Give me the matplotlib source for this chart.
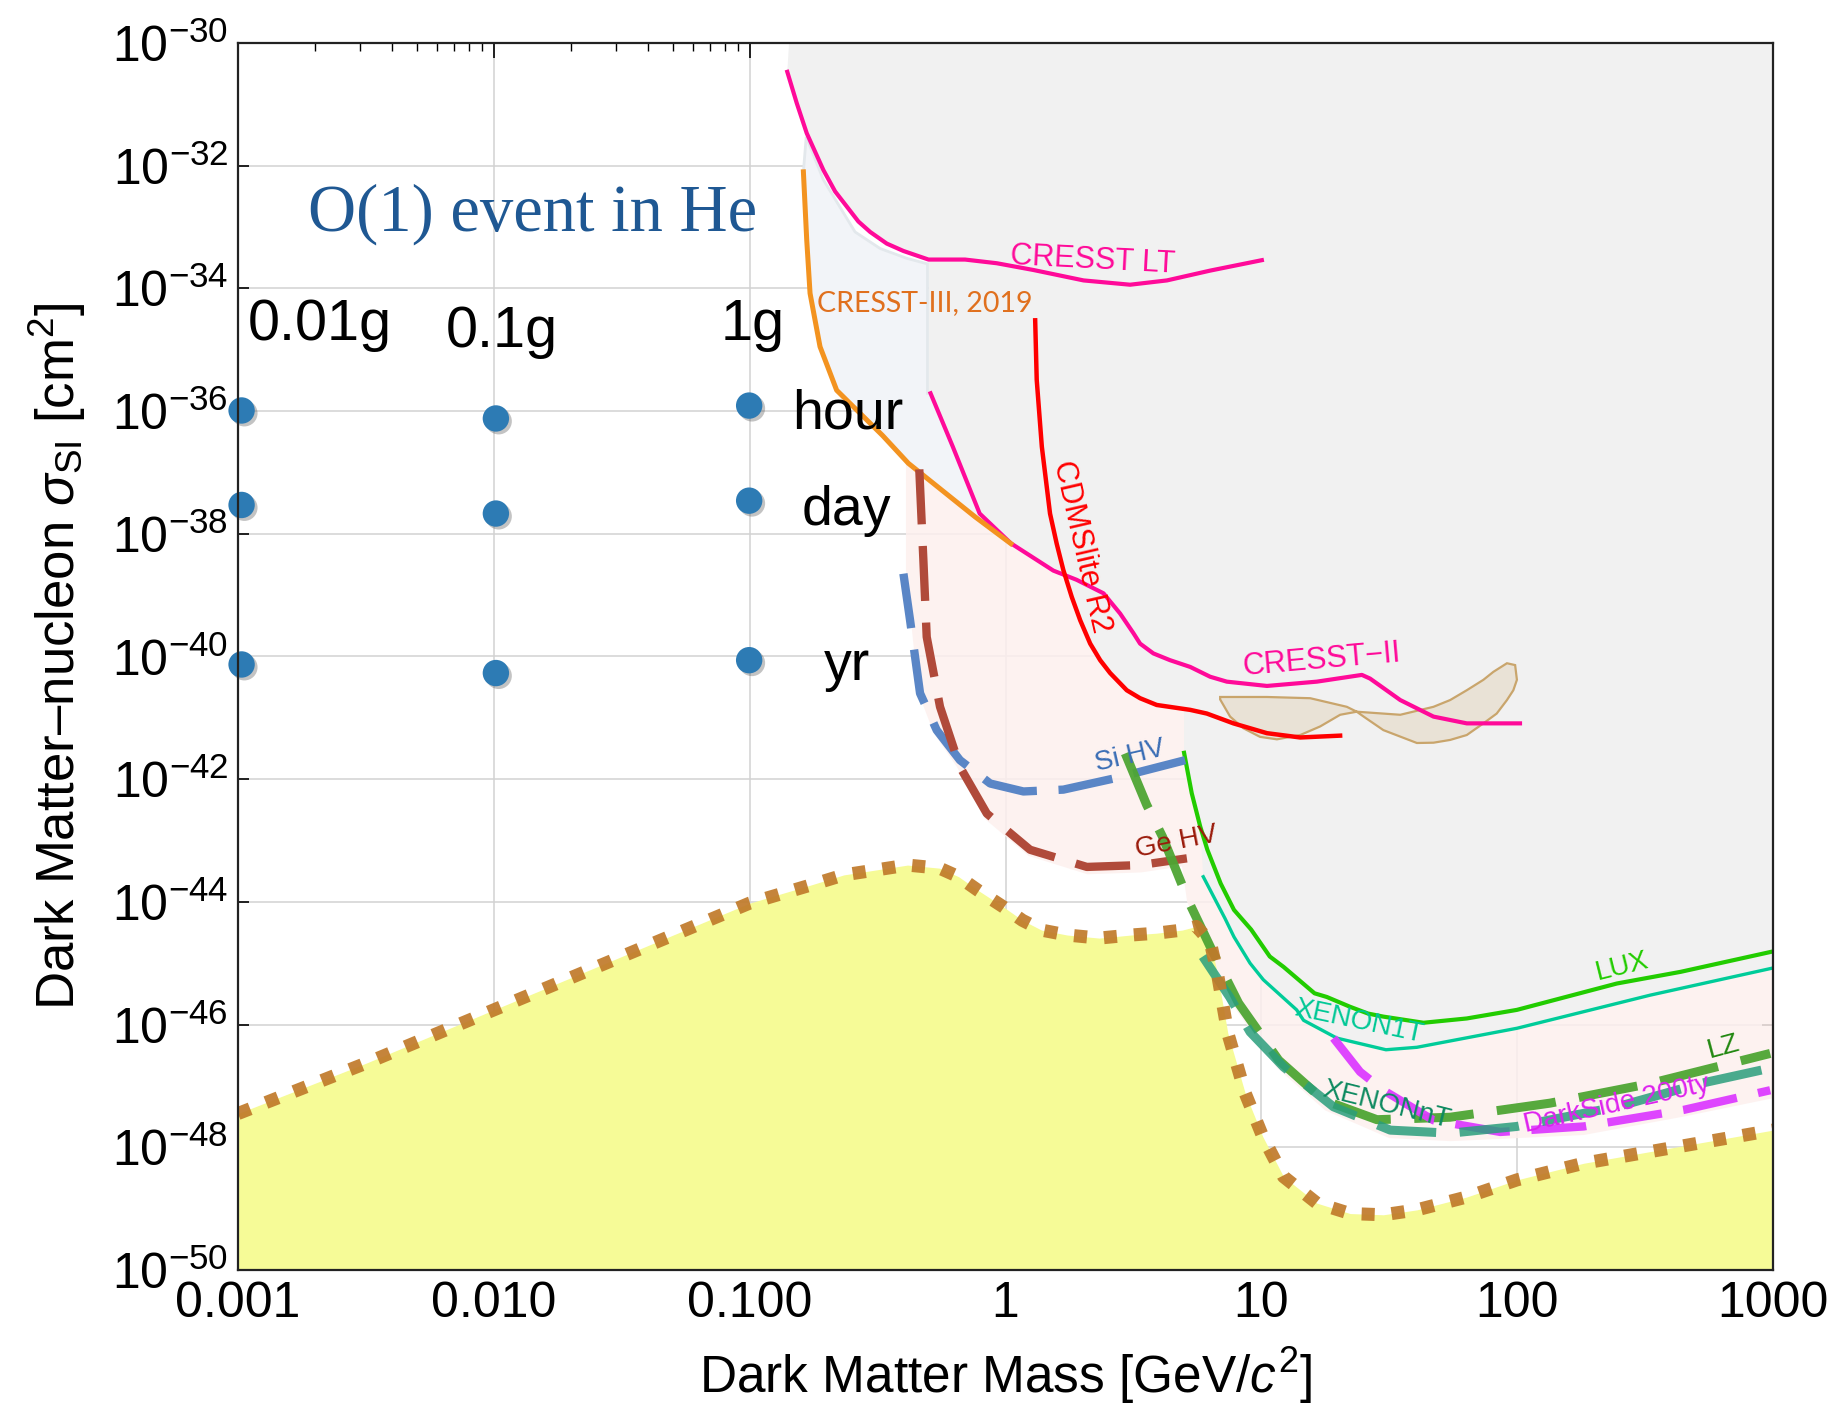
import numpy as np
import matplotlib
matplotlib.use("Agg")
import matplotlib.pyplot as plt
from matplotlib import patheffects

plt.rcParams['font.family'] = ['Liberation Sans', 'DejaVu Sans']
plt.rcParams['mathtext.fontset'] = 'custom'
plt.rcParams['mathtext.rm'] = 'Liberation Sans'
plt.rcParams['mathtext.it'] = 'Liberation Sans:italic'
plt.rcParams['mathtext.default'] = 'regular'

# every curve is stored as log10(mass / GeV), log10(sigma / cm^2)

# current limits
clt_lm = [-0.853, -0.816, -0.777, -0.712, -0.666, -0.614, -0.575, -0.529, -0.464, -0.399, -0.301, -0.158, -0.034, 0.109,
          0.305, 0.487, 0.631, 0.800, 1.002]
clt_ls = [-30.47, -30.98, -31.47, -32.07, -32.42, -32.70, -32.91, -33.08, -33.27, -33.39, -33.53, -33.53, -33.59, -33.70,
          -33.87, -33.94, -33.87, -33.71, -33.54]

c3_lm = [-0.790, -0.777, -0.764, -0.725, -0.660, -0.480, -0.380, -0.120, 0.021]
c3_ls = [-32.10, -33.21, -34.08, -34.95, -35.66, -36.40, -36.85, -37.72, -38.16]

c2_lm = [-0.293, -0.206, -0.101, 0.021, 0.187, 0.278, 0.383, 0.448, 0.500, 0.526, 0.578, 0.643, 0.722, 0.800, 0.865,
         1.022, 1.217, 1.393, 1.425, 1.543, 1.673, 1.803, 2.011]
c2_ls = [-35.71, -36.58, -37.67, -38.155, -38.60, -38.75, -38.97, -39.30, -39.62, -39.79, -39.95, -40.06, -40.17, -40.33, -40.41,
         -40.48, -40.41, -40.30, -40.36, -40.71, -40.98, -41.09, -41.09]

cdms_lm = [0.116, 0.122, 0.142, 0.174, 0.200, 0.226, 0.259, 0.292, 0.331, 0.370, 0.409, 0.474, 0.526, 0.591, 0.722, 0.787,
           0.891, 1.022, 1.152, 1.308]
cdms_ls = [-34.52, -35.49, -36.58, -37.67, -38.16, -38.59, -39.03, -39.41, -39.79, -40.06, -40.27, -40.55, -40.68, -40.79, -40.87, -40.93,
           -41.09, -41.25, -41.32, -41.29]

lux_lm = [0.698, 0.728, 0.761, 0.789, 0.841, 0.893, 0.960, 1.033, 1.087, 1.208, 1.256, 1.347, 1.417, 1.477, 1.634, 1.803,
          1.999, 2.390, 2.639, 2.997]
lux_ls = [-41.57, -42.23, -42.77, -43.15, -43.70, -44.13, -44.45, -44.89, -45.06, -45.49, -45.55, -45.71, -45.82, -45.87, -45.97, -45.90,
          -45.76, -45.33, -45.14, -44.81]

x1t_lm = [0.773, 0.858, 0.893, 0.956, 1.008, 1.138, 1.165, 1.295, 1.487, 1.608, 1.999, 2.520, 2.997]
x1t_ls = [-43.59, -44.27, -44.57, -45.00, -45.27, -45.76, -45.93, -46.22, -46.41, -46.37, -46.06, -45.52, -45.08]

# projections
si_lm = [-0.399, -0.373, -0.334, -0.269, -0.178, -0.060, 0.070, 0.226, 0.422, 0.702]
si_ls = [-38.65, -39.41, -40.60, -41.20, -41.69, -42.07, -42.20, -42.17, -41.99, -41.69]

ge_lm = [-0.337, -0.321, -0.308, -0.256, -0.178, -0.073, 0.096, 0.318, 0.526, 0.709]
ge_ls = [-36.95, -38.43, -39.68, -40.82, -41.80, -42.56, -43.15, -43.43, -43.40, -43.29]

lz_lm = [0.468, 0.552, 0.614, 0.719, 0.806, 0.911, 1.068, 1.243, 1.452, 1.738, 2.129, 2.520, 2.989]
lz_ls = [-41.58, -42.42, -42.94, -44.02, -44.78, -45.65, -46.58, -47.23, -47.55, -47.51, -47.28, -46.96, -46.47]

xnt_lm = [0.771, 0.876, 0.956, 1.087, 1.282, 1.504, 1.738, 1.999, 2.390, 2.716, 2.989]
xnt_ls = [-44.89, -45.55, -46.12, -46.69, -47.34, -47.72, -47.77, -47.66, -47.34, -46.96, -46.71]

ds_lm = [1.282, 1.386, 1.477, 1.673, 1.934, 2.260, 2.651, 2.989]
ds_ls = [-46.22, -46.77, -47.07, -47.56, -47.75, -47.66, -47.39, -47.07]

# neutrino floor
nu_lm = [-3.0, -2.5, -2.0, -1.5, -1.0, -0.757, -0.632, -0.507, -0.383, -0.258, -0.183, -0.108, -0.009, 0.066, 0.141,
         0.241, 0.366, 0.491, 0.590, 0.690, 0.746, 0.800, 0.828, 0.869, 0.937, 1.006, 1.087, 1.217, 1.347, 1.477,
         1.608, 1.803, 2.0, 2.26, 2.52, 2.781, 3.0]
nu_ls = [-47.45, -46.63, -45.76, -44.89, -44.02, -43.72, -43.56, -43.48, -43.40, -43.45, -43.59, -43.81, -44.08, -44.30, -44.46,
         -44.54, -44.59, -44.54, -44.51, -44.46, -44.40, -44.65, -45.16, -46.14, -47.12, -47.83, -48.48, -48.91, -49.08, -49.10,
         -49.02, -48.81, -48.53, -48.26, -48.07, -47.88, -47.72]

# CRESST-II signal contour (two lobes)
cr2sig_lm = [0.839, 0.900, 1.022, 1.191, 1.334, 1.373, 1.543, 1.673, 1.738, 1.803, 1.868, 1.907, 1.960, 1.992, 1.999,
             1.985, 1.960, 1.920, 1.868, 1.803, 1.738, 1.673, 1.608, 1.477, 1.400, 1.373, 1.308, 1.230, 1.152, 1.061,
             0.995, 0.930, 0.878, 0.839]
cr2sig_ls = [-40.66, -40.66, -40.66, -40.68, -40.82, -40.90, -40.95, -40.82, -40.71, -40.55, -40.38, -40.25, -40.11, -40.14, -40.38,
             -40.55, -40.71, -40.93, -41.09, -41.28, -41.36, -41.405, -41.41, -41.20, -40.98, -40.90, -40.95, -41.14, -41.28, -41.35,
             -41.31, -41.17, -40.98, -40.70]

# shaded regions: excluded, CRESST-III band, projected reach
excl_lm = [-0.846, -0.853, -0.816, -0.777, -0.712, -0.666, -0.614, -0.575, -0.529, -0.464, -0.399, -0.301, -0.301, -0.293,
           -0.206, -0.101, 0.021, 0.187, 0.226, 0.259, 0.292, 0.331, 0.370, 0.409, 0.474, 0.526, 0.591, 0.698, 0.698,
           0.728, 0.761, 0.773, 0.858, 0.893, 0.956, 1.008, 1.138, 1.165, 1.295, 1.487, 1.608, 1.999, 2.520, 3.0, 3.0]
excl_ls = [-30.0, -30.47, -30.98, -31.47, -32.07, -32.42, -32.70, -32.91, -33.08, -33.27, -33.39, -33.53, -35.71, -35.71,
           -36.58, -37.67, -38.155, -38.60, -38.62, -39.03, -39.41, -39.79, -40.06, -40.27, -40.55, -40.68, -40.79, -40.85, -41.57,
           -42.23, -42.77, -43.59, -44.27, -44.57, -45.00, -45.27, -45.76, -45.93, -46.22, -46.41, -46.37, -46.06, -45.52, -45.08, -30.0]

c3reg_lm = [-0.779, -0.712, -0.588, -0.490, -0.386, -0.305, -0.305, -0.293, -0.206, -0.101, 0.021, -0.120, -0.380, -0.480,
            -0.660, -0.725, -0.764, -0.777, -0.790]
c3reg_ls = [-31.53, -32.23, -33.08, -33.35, -33.51, -33.60, -35.71, -35.71, -36.58, -37.67, -38.16, -37.72, -36.85, -36.40,
            -35.66, -34.95, -34.08, -33.21, -32.10]

proj_lm = [-0.389, -0.389, -0.37, -0.34, -0.28, -0.19, -0.08, 0.09, 0.32, 0.53, 0.69, 0.71, 0.80, 0.90, 1.06, 1.25, 1.50,
           1.74, 2.00, 2.26, 2.65, 3.0, 3.0, 0.70, 0.40, 0.10, 0.021, -0.120, -0.380]
proj_ls = [-36.82, -38.6, -39.4, -40.6, -41.25, -41.8, -42.65, -43.25, -43.55, -43.52, -43.42, -44.0, -44.85, -45.75, -46.7, -47.4, -47.85,
           -47.9, -47.85, -47.8, -47.5, -47.2, -43.0, -40.0, -39.5, -38.2, -38.16, -37.72, -36.85]

# O(1) events in helium: target mass x exposure time
he_mass_lm = [-2.986, -1.992, -1.002]
he_hour_ls = [-35.99, -36.12, -35.91]
he_day_ls = [-37.53, -37.67, -37.46]
he_yr_ls = [-40.13, -40.27, -40.06]


def xy(lm, ls):
    return 10.0 ** np.asarray(lm), 10.0 ** np.asarray(ls)


fig = plt.figure(figsize=(18.38, 14.06), dpi=100)
ax = fig.add_axes([0.12949, 0.09673, 0.83515, 0.87269])
ax.set_xscale('log')
ax.set_yscale('log')
ax.set_xlim(1e-3, 1e3)
ax.set_ylim(1e-50, 1e-30)

ax.grid(True, which='major', color='#d2d2d2', lw=1.1, zorder=0)
ax.set_axisbelow(True)

# shaded regions
ax.fill(*xy(proj_lm, proj_ls), color='#fdf0ee', alpha=0.85, lw=0, zorder=1)
ax.fill_between(*xy(nu_lm, nu_ls), 1e-50, color='#f6fb97', lw=0, zorder=1.1)
ax.fill(*xy(excl_lm, excl_ls), color='#f1f1f1', lw=0, zorder=1.2)
ax.fill(*xy(c3reg_lm, c3reg_ls), facecolor='#f2f4f8', edgecolor='#e3e8ec', lw=2, zorder=1.3)
ax.fill(*xy(cr2sig_lm, cr2sig_ls), facecolor='#e9e2d6', edgecolor='#c9a56c', lw=1.6, zorder=1.4)

# limits
ax.plot(*xy(clt_lm, clt_ls), color='#ff0a99', lw=3, zorder=2)
ax.plot(*xy(c2_lm, c2_ls), color='#ff0a99', lw=3, zorder=2)
ax.plot(*xy(c3_lm, c3_ls), color='#f39320', lw=3.6, zorder=2.1)
ax.plot(*xy(cdms_lm, cdms_ls), color='#ff0000', lw=3.2, zorder=2)
ax.plot(*xy(lux_lm, lux_ls), color='#22cc00', lw=3, zorder=2)
ax.plot(*xy(x1t_lm, x1t_ls), color='#00cc99', lw=2.4, zorder=2)

# projections
dash = (0, (6.6, 2.6))
ax.plot(*xy(si_lm, si_ls), color='#5a86c6', lw=6, ls=dash, zorder=3)
ax.plot(*xy(ge_lm, ge_ls), color='#b04a3a', lw=6, ls=dash, zorder=3)
ax.plot(*xy(lz_lm, lz_ls), color='#4ea533', lw=6.5, ls=dash, alpha=0.95, zorder=3)
ax.plot(*xy(xnt_lm, xnt_ls), color='#2a9e7c', lw=6.5, ls=dash, alpha=0.85, zorder=3.1)
ax.plot(*xy(ds_lm, ds_ls), color='#dd3cff', lw=6, ls=dash, alpha=0.95, zorder=3)

ax.plot(*xy(nu_lm, nu_ls), color='#c07a2a', lw=9.4, ls=(0, (1.0, 1.3)), alpha=0.92, zorder=3.5)

# curve labels
lab = dict(ha='center', va='center', rotation_mode='anchor', zorder=5)
ax.text(*xy(0.343, -33.54), 'CRESST LT', color='#ff0a99', fontsize=22, rotation=-3, **lab)
ax.text(*xy(-0.314, -34.24), 'CRESST-III, 2019', color='#e0701e', fontsize=20.5,
        family=['Lato', 'DejaVu Sans'], **lab)
ax.text(*xy(0.298, -38.21), 'CDMSlite R2', color='#ff0000', fontsize=22, rotation=-77, **lab)
ax.text(*xy(1.236, -40.06), 'CRESST\u2212II', color='#ff0a99', fontsize=22, rotation=5, **lab)
ax.text(*xy(0.487, -41.63), 'Si HV', color='#3a6db5', fontsize=20, rotation=13, **lab)
ax.text(*xy(0.670, -43.02), 'Ge HV', color='#9a1a0a', fontsize=20, rotation=11, **lab)
ax.text(*xy(2.409, -45.06), 'LUX', color='#22cc00', fontsize=20, rotation=14, **lab)
ax.text(*xy(1.380, -45.95), 'XENON1T', color='#00c896', fontsize=20, rotation=-12, **lab)
ax.text(*xy(1.490, -47.31), 'XENONnT', color='#0e8a60', fontsize=20, rotation=-14, **lab)
ax.text(*xy(2.390, -47.31), 'DarkSide 200ty', color='#dd22ee', fontsize=20, rotation=12.6, **lab)
ax.text(*xy(2.807, -46.36), 'LZ', color='#228811', fontsize=20, rotation=15, **lab)

# helium event-rate points
shadow = [patheffects.SimplePatchShadow(offset=(2, -2), shadow_rgbFace='#555555', alpha=0.35), patheffects.Normal()]
for row in (he_hour_ls, he_day_ls, he_yr_ls):
    ax.plot(*xy(he_mass_lm, row), 'o', color='#2d7bb4', ms=19, mew=0, clip_on=False, zorder=6,
            path_effects=shadow)

ax.text(*xy(-2.726, -33.05), 'O(1) event in He', color='#1f5893', fontsize=48,
        family=['Liberation Serif', 'DejaVu Serif'], ha='left', va='baseline', zorder=6)
big = dict(fontsize=41.5, ha='left', va='baseline', zorder=6)
ax.text(*xy(-2.961, -34.84), '0.01g', **big)
ax.text(*xy(-2.189, -34.95), '0.1g', **big)
ax.text(*xy(-1.112, -34.84), '1g', **big)
big['fontsize'] = 40
ax.text(*xy(-0.833, -36.28), 'hour', **big)
ax.text(*xy(-0.796, -37.86), 'day', **big)
ax.text(*xy(-0.709, -40.38), 'yr', **big)

# axes, ticks and labels
xt = [1e-3, 1e-2, 1e-1, 1, 10, 100, 1000]
ax.set_xticks(xt, ['0.001', '0.010', '0.100', '1', '10', '100', '1000'])
yt = [10.0 ** e for e in range(-50, -29, 2)]
ax.set_yticks(yt, [r'$10^{%d}$' % e for e in range(-50, -29, 2)])
ax.yaxis.set_minor_locator(matplotlib.ticker.NullLocator())
ax.tick_params(axis='x', which='major', direction='in', length=11, width=1.2, top=True, labelsize=36, pad=8)
ax.tick_params(axis='x', which='minor', direction='in', length=6, width=1.0, top=True)
ax.tick_params(axis='y', which='major', direction='in', length=8, width=1.2, right=True, labelsize=36, pad=7)
for sp in ax.spines.values():
    sp.set_linewidth(1.6)
    sp.set_color('#222222')
    sp.set_zorder(7)

ax.set_xlabel(r'Dark Matter Mass [GeV/$\mathit{c}^2$]', fontsize=37)
ax.xaxis.set_label_coords(0.5, -0.061)
ax.set_ylabel('Dark Matter\u2013nucleon ' + r'$\mathit{\sigma}_{SI}$ [cm$^2$]', fontsize=38)
ax.yaxis.set_label_coords(-0.098, 0.5)

fig.savefig('out.png', dpi=100)
